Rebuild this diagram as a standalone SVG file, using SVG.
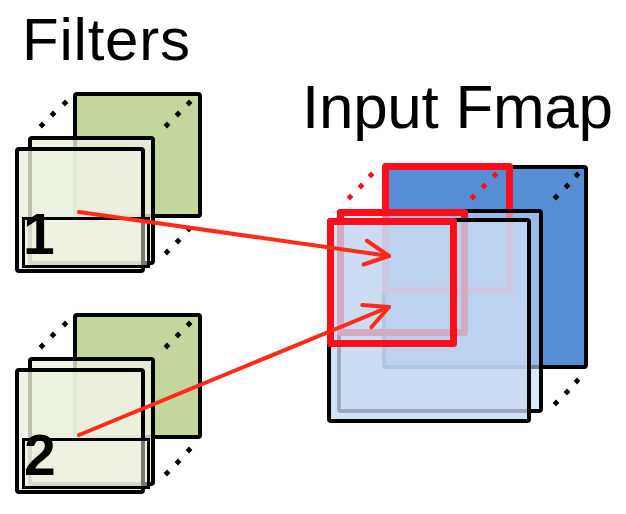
<svg xmlns="http://www.w3.org/2000/svg" width="626" height="514" viewBox="0 0 626 514">
<style>
.title{font-family:"Liberation Sans",Arial,sans-serif;font-size:60px;fill:#000}
.num{font-family:"Liberation Sans",Arial,sans-serif;font-size:57px;font-weight:bold;fill:#000}
.gback{fill:#c3d69b;stroke:#000;stroke-width:4;stroke-linejoin:round}
.gfront{fill:#ebf1de;fill-opacity:0.8;stroke:#000;stroke-width:4;stroke-linejoin:round}
.gbox{fill:#ebf1de;fill-opacity:0.5;stroke:#000;stroke-width:3}
.bback{fill:#558ed5;stroke:#000;stroke-width:4;stroke-linejoin:round}
.bmid{fill:#c6d9f1;fill-opacity:0.6;stroke:#000;stroke-width:4;stroke-linejoin:round}
.bfront{fill:#c6d9f1;fill-opacity:0.78;stroke:#000;stroke-width:4;stroke-linejoin:round}
.red{fill:none;stroke:#ff0d1a;stroke-width:7;stroke-linejoin:round}
.arrow{fill:none;stroke:#ff2a1a;stroke-width:4;stroke-linecap:round}
</style>
<defs>
<path id="d" d="M0,-3.4 L3.4,0 L0,3.4 L-3.4,0Z"/>
<marker id="ah" markerUnits="userSpaceOnUse" markerWidth="32" markerHeight="30" refX="27" refY="15" orient="auto" viewBox="0 0 32 30">
<path d="M3,3 L27,15 L3,27" fill="none" stroke="#ff2a1a" stroke-width="4" stroke-linecap="round" stroke-linejoin="round"/>
</marker>
</defs>

<text class="title" x="22" y="60" textLength="168">Filters</text>
<text class="title" x="302" y="128" style="font-size:62px" textLength="311">Input Fmap</text>

<g id="filter1">
<rect class="gback" x="75" y="94" width="125" height="122" rx="2"/>
<g fill="#000">
<use href="#d" x="42" y="125"/><use href="#d" x="53" y="114"/><use href="#d" x="65" y="103"/>
<use href="#d" x="167" y="125"/><use href="#d" x="178" y="114"/><use href="#d" x="189" y="103"/>
<use href="#d" x="167" y="252"/><use href="#d" x="178" y="241"/><use href="#d" x="189" y="229"/>
</g>
<rect class="gfront" x="30" y="138" width="123" height="125" rx="2"/>
<rect class="gfront" x="17" y="149" width="126" height="122" rx="2"/>
<rect class="gbox" x="23.5" y="218.5" width="125" height="48"/>
<text class="num" x="23" y="254">1</text>
</g>

<g id="filter2">
<rect class="gback" x="75" y="315" width="125" height="122" rx="2"/>
<g fill="#000">
<use href="#d" x="42" y="346"/><use href="#d" x="53" y="335"/><use href="#d" x="65" y="324"/>
<use href="#d" x="167" y="346"/><use href="#d" x="178" y="335"/><use href="#d" x="189" y="324"/>
<use href="#d" x="167" y="473"/><use href="#d" x="178" y="462"/><use href="#d" x="189" y="450"/>
</g>
<rect class="gfront" x="30" y="359" width="123" height="125" rx="2"/>
<rect class="gfront" x="17" y="370" width="126" height="122" rx="2"/>
<rect class="gbox" x="23.5" y="439.5" width="125" height="48"/>
<text class="num" x="24" y="475">2</text>
</g>

<g id="fmap">
<rect class="bback" x="384" y="167" width="202" height="200" rx="2"/>
<rect class="red" x="385.5" y="166.5" width="124" height="124"/>
<g fill="#ff0d1a">
<use href="#d" x="350" y="197"/><use href="#d" x="361" y="186"/><use href="#d" x="371" y="175"/>
<use href="#d" x="473" y="197"/><use href="#d" x="484" y="186"/><use href="#d" x="495" y="175"/>
</g>
<g fill="#000">
<use href="#d" x="556" y="197"/><use href="#d" x="567" y="186"/><use href="#d" x="577" y="175"/>
<use href="#d" x="556" y="403"/><use href="#d" x="567" y="392"/><use href="#d" x="577" y="381"/>
</g>
<rect class="bmid" x="339" y="211" width="202" height="200" rx="2"/>
<rect class="red" x="340.5" y="212.5" width="124" height="120"/>
<rect class="bfront" x="329" y="220" width="200" height="201" rx="2"/>
<rect class="red" x="330.5" y="221.5" width="123" height="122"/>
</g>

<g id="connectors">
<line class="arrow" x1="79" y1="212" x2="389" y2="256" marker-end="url(#ah)"/>
<line class="arrow" x1="79" y1="435" x2="389" y2="307" marker-end="url(#ah)"/>
</g>
</svg>
